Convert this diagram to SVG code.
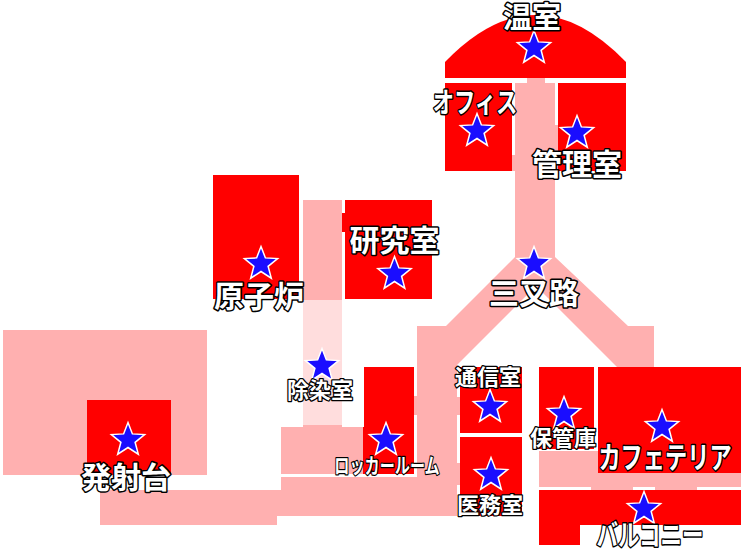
<svg xmlns="http://www.w3.org/2000/svg" width="744" height="551" viewBox="0 0 744 551">
<style>
.room{fill:#ff0000}
.hall{fill:#ffb0b0}
.pale{fill:#ffdddd}
.star{fill:#1a0dff;stroke:#ffffff;stroke-width:1.5}
text{font-family:"Noto Sans CJK JP","Noto Sans",sans-serif;fill:#ffffff;stroke:#000000;paint-order:stroke;stroke-linejoin:round;text-anchor:middle;font-weight:700}
.l{font-size:30px;stroke-width:3px}
.s{font-size:22px;stroke-width:2.500px}
</style>
<defs>
<polygon id="st" points="0,-17.500 4.400,-6.100 16.600,-5.400 7.100,2.300 10.300,14.200 0,7.500 -10.300,14.200 -7.100,2.300 -16.600,-5.400 -4.400,-6.100"/>
</defs>
<rect width="744" height="551" fill="#ffffff"/>
<g id="halls">
<rect class="hall" x="3" y="330" width="204" height="145"/>
<path class="hall" d="M100,490H281V477H417V326H446L515,257V83H527V78H545V83H555V257L628,326H654V367H617L536,286L457,365V516H277V525H100Z"/>
<rect class="hall" x="281" y="427" width="83" height="47"/>
<rect class="hall" x="303" y="425" width="39" height="3"/>
<rect class="hall" x="303" y="200" width="39" height="100"/>
<rect class="pale" x="303" y="300" width="39" height="125"/>
<rect class="hall" x="457" y="397" width="4" height="18"/>
<rect class="hall" x="457" y="463" width="4" height="22"/>
<rect class="hall" x="414" y="396" width="4" height="19"/>
<rect class="hall" x="511" y="155" width="5" height="16"/>
<rect class="hall" x="554" y="125" width="5" height="46"/>
<rect class="hall" x="539" y="451" width="202" height="36"/>
<rect class="hall" x="591" y="486" width="42" height="5"/>
<rect class="hall" x="655" y="486" width="42" height="5"/>
</g>
<g id="room-onshitsu"><path class="room" d="M445,62Q535.500,-32 626,62V78H445Z"/><use href="#st" class="star" x="534" y="48"/><text class="l" style="font-size:29px" x="532" y="28">温室</text></g>
<g id="room-office"><rect class="room" x="445" y="83" width="67" height="88"/><use href="#st" class="star" x="477" y="131"/><text class="l" style="font-size:28px" transform="translate(475,113) scale(.76,1)">オフィス</text></g>
<g id="room-kanri"><rect class="room" x="558" y="83" width="68" height="88"/><use href="#st" class="star" x="577" y="133"/><text class="l" x="577" y="175">管理室</text></g>
<g id="room-genshiro"><rect class="room" x="213" y="175" width="86" height="124"/><use href="#st" class="star" x="261" y="264"/><text class="l" x="259" y="307">原子炉</text></g>
<g id="room-kenkyu"><path class="room" d="M345,200H432V299H345V232H342V213H345Z"/><use href="#st" class="star" x="394.500" y="274"/><text class="l" x="394.500" y="251">研究室</text></g>
<g id="room-josen"><use href="#st" class="star" x="322" y="366"/><text class="s" x="320" y="398">除染室</text></g>
<g id="room-locker"><path class="room" d="M364,367H414V474H363V427H364Z"/><use href="#st" class="star" x="386" y="440"/><text class="s" style="font-size:21px" transform="translate(387,473) scale(.72,1)">ロッカールーム</text></g>
<g id="room-tsushin"><rect class="room" x="460" y="367" width="62" height="66"/><use href="#st" class="star" x="490" y="407"/><text class="s" x="488" y="385">通信室</text></g>
<g id="room-imu"><rect class="room" x="460" y="437" width="62" height="79"/><use href="#st" class="star" x="491" y="475"/><text class="s" x="490" y="513">医務室</text></g>
<g id="room-hokan"><rect class="room" x="539" y="367" width="55" height="82"/><use href="#st" class="star" x="564" y="414"/><text class="s" x="563" y="446">保管庫</text></g>
<g id="room-cafe"><rect class="room" x="598" y="367" width="143" height="106"/><use href="#st" class="star" x="662" y="427"/><text class="l" transform="translate(665,468) scale(.74,1)">カフェテリア</text></g>
<g id="room-balcony"><path class="room" d="M539,490H741V525H580V545H539Z"/><use href="#st" class="star" x="644" y="509"/><text class="l" style="font-size:29px" transform="translate(650,546) scale(.74,1)">バルコニー</text></g>
<g id="node-sansaro"><use href="#st" class="star" x="534" y="264"/><text class="l" x="534" y="304">三叉路</text></g>
<g id="room-hassha"><rect class="room" x="87" y="400" width="84" height="75"/><use href="#st" class="star" x="128" y="440"/><text class="l" x="126" y="488">発射台</text></g>
<g id="connectors"></g>
</svg>
